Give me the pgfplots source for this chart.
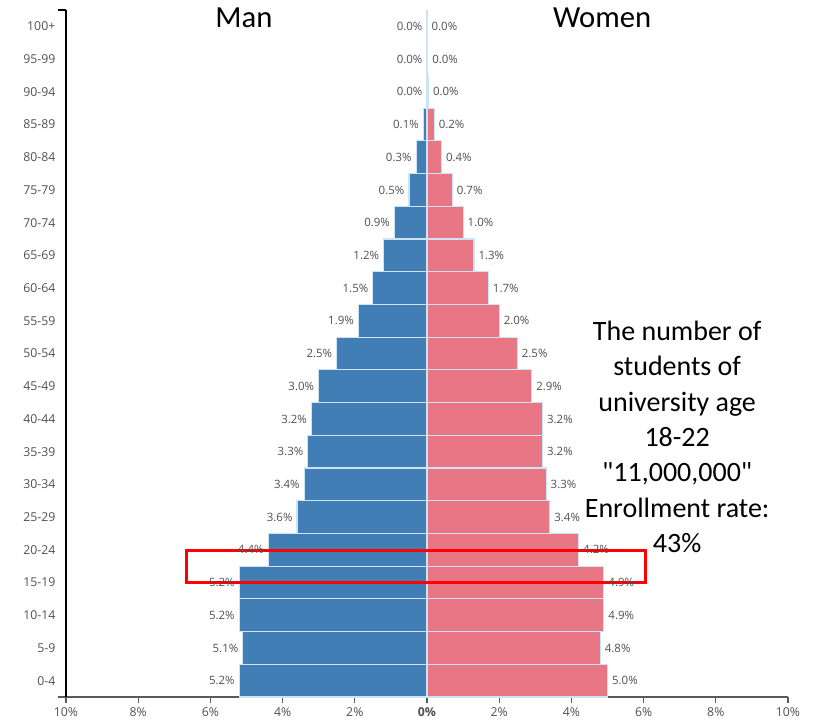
\documentclass[border=0pt]{standalone}
\usepackage{pgfplots}
\pgfplotsset{compat=1.18}
\usepackage{pgfplotstable}
\usepackage{fontspec}
\setmainfont{Open Sans}
\newfontfamily\calibri{Carlito}
\definecolor{maleblue}{RGB}{65,126,181}
\definecolor{femalepink}{RGB}{233,118,132}
\definecolor{sepblue}{RGB}{205,228,245}
\definecolor{labgray}{RGB}{80,80,80}
\definecolor{axgray}{RGB}{90,90,90}

\pgfplotstableread{
idx male female
0 5.2 5.0
1 5.1 4.8
2 5.2 4.9
3 5.2 4.9
4 4.4 4.2
5 3.6 3.4
6 3.4 3.3
7 3.3 3.2
8 3.2 3.2
9 3.0 2.9
10 2.5 2.5
11 1.9 2.0
12 1.5 1.7
13 1.2 1.3
14 0.9 1.0
15 0.5 0.7
16 0.3 0.4
17 0.1 0.2
18 0.0 0.04
19 0.0 0.02
20 0.0 0.0
}\pyramid

\begin{document}
\begin{tikzpicture}
\path (0,0) rectangle (621pt,544.5pt);
\begin{axis}[
  at={(49.5pt,21.75pt)}, anchor=south west,
  scale only axis, width=541.5pt, height=515.25pt,
  xmin=-10, xmax=10, ymin=-0.5, ymax=20.5,
  clip=false,
  axis lines=left,
  x axis line style={-, draw=axgray, line width=1.5pt, shorten <=-6pt},
  y axis line style={-, draw=black, line width=0.9pt},
  xbar, bar shift=0pt, bar width=1,
  xtick={-10,-8,...,10},
  xticklabels={10\%,8\%,6\%,4\%,2\%,\textbf{0\%},2\%,4\%,6\%,8\%,10\%},
  ytick={0,...,20},
  yticklabels={0-4,5-9,10-14,15-19,20-24,25-29,30-34,35-39,40-44,45-49,50-54,55-59,60-64,65-69,70-74,75-79,80-84,85-89,90-94,95-99,100+},
  tick align=outside,
  major tick length=4.5pt,
  xtick style={draw=axgray, line width=0.9pt},
  ytick style={draw=none},
  tick label style={font=\fontsize{9.2}{11}\selectfont, text=labgray},
  /pgf/number format/assume math mode=true,
  nodes near coords={\pgfmathprintnumber[fixed,fixed zerofill,precision=1]{\pgfplotspointmeta}\%},
  nodes near coords style={font=\fontsize{8.6}{10}\selectfont, text=labgray},
]
\addplot[fill=maleblue, draw=sepblue, line width=0.9pt,
  nodes near coords style={anchor=east, inner sep=3pt}]
  table[x expr=-\thisrow{male}, y=idx, point meta=\thisrow{male}] {\pyramid};
\addplot[fill=femalepink, draw=sepblue, line width=0.9pt,
  nodes near coords style={anchor=west, inner sep=3pt}]
  table[x=female, y=idx, point meta=\thisrow{female}] {\pyramid};
\draw[black, line width=0.9pt] (axis cs:-10,20.5) -- ++(-6pt,0pt);
\draw[red, line width=2.25pt] (axis cs:-6.65,2.99) rectangle (axis cs:6.04,3.97);
\node[font=\calibri\fontsize{23}{27}\selectfont] at (axis cs:-5.07,20.26) {Man};
\node[font=\calibri\fontsize{23}{27}\selectfont] at (axis cs:4.85,20.26) {Women};
\node[align=center, font=\calibri\fontsize{21}{26.5}\selectfont] at (axis cs:6.93,7.45)
  {The number of\\students of\\university age\\18-22\\"11,000,000"\\Enrollment rate:\\43\%};
\end{axis}
\end{tikzpicture}
\end{document}
